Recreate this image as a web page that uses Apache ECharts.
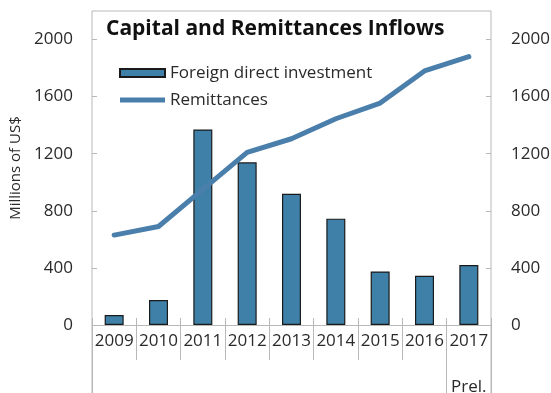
<!DOCTYPE html>
<html>
<head>
<meta charset="utf-8">
<script src="https://cdn.jsdelivr.net/npm/echarts@6/dist/echarts.min.js"></script>
<style>
  html, body { margin: 0; padding: 0; background: #fff; }
  #chart { width: 551px; height: 393px; }
</style>
</head>
<body>
<div id="chart"></div>
<script>
// Years on the category axis
const years = ['2009', '2010', '2011', '2012', '2013', '2014', '2015', '2016', '2017'];
// Extra note printed under a year label
const yearNotes = { '2017': 'Prel.' };
// Foreign direct investment, millions of US$
const fdi = [70, 175, 1370, 1140, 920, 745, 375, 345, 420];
// Remittances, millions of US$
const remittances = [630, 690, 950, 1210, 1305, 1445, 1555, 1780, 1880];
// Value-axis tick labels
const yTicks = [0, 400, 800, 1200, 1600, 2000];

const FONT = '"Open Sans", "DejaVu Sans", sans-serif';
const FRAME = '#b8b8b8';
const TEXT = '#2a2a2a';
const BAR_COLOR = '#3f80a8';
const LINE_COLOR = '#4a7eab';

const chart = echarts.init(document.getElementById('chart'), null, { renderer: 'canvas' });

const valueAxis = (gridIndex, position, margin) => ({
  type: 'value',
  gridIndex,
  position,
  min: 0,
  max: 2200,
  interval: 400,
  axisLine: { show: false },
  splitLine: { show: false },
  axisTick: { show: true, inside: true, length: 5, lineStyle: { color: FRAME }, customValues: yTicks },
  axisLabel: {
    color: TEXT,
    fontFamily: FONT,
    fontSize: 17,
    margin,
    customValues: yTicks,
    formatter: (v) => String(v)
  }
});

// the preliminary year is fenced off by a full-height divider
const prelimIndex = years.indexOf('2017');

// helper axis that only draws vertical dividers between years
const dividerAxis = (gridIndex, interval) => ({
  type: 'category',
  gridIndex,
  data: years,
  axisLine: { show: false },
  axisTick: { show: false },
  axisLabel: { show: false },
  splitLine: { show: true, interval, lineStyle: { color: FRAME, width: 1 } }
});

const PLOT = { left: 92, right: 60, outerBoundsMode: 'none' };

chart.setOption({
  animation: false,
  title: {
    text: 'Capital and Remittances Inflows',
    left: 106,
    top: 19,
    padding: 0,
    textStyle: { fontFamily: FONT, fontWeight: 'bold', fontSize: 21, color: '#111' }
  },
  legend: {
    orient: 'vertical',
    left: 119,
    top: 63,
    padding: 0,
    itemWidth: 45,
    itemHeight: 8,
    itemGap: 7,
    symbolKeepAspect: true,
    textStyle: { fontFamily: FONT, fontSize: 17, color: TEXT, lineHeight: 20 },
    data: [
      { name: 'Foreign direct investment', icon: 'rect' },
      // thick flat stroke for the line series
      { name: 'Remittances', icon: 'path://M0 0H45V5H0Z', itemStyle: { color: LINE_COLOR, borderWidth: 0 } }
    ]
  },
  grid: [
    Object.assign({ top: 11, bottom: 68, show: false }, PLOT),
    // outer frame that runs down past the year labels
    Object.assign({ top: 11, bottom: -1, show: true, borderColor: FRAME, borderWidth: 1, backgroundColor: 'transparent' }, PLOT),
    // short dividers between year labels
    Object.assign({ top: 318, bottom: 33, show: false }, PLOT),
    // long divider before the preliminary year
    Object.assign({ top: 318, bottom: -1, show: false }, PLOT)
  ],
  xAxis: [
    {
      type: 'category',
      gridIndex: 0,
      data: years,
      axisLine: { show: true, lineStyle: { color: FRAME } },
      axisTick: { show: false },
      axisLabel: {
        interval: 0,
        color: TEXT,
        fontFamily: FONT,
        fontSize: 17,
        lineHeight: 23,
        margin: 5,
        formatter: (v) => yearNotes[v] ? v + '\n\n' + yearNotes[v] : v
      }
    },
    dividerAxis(1, () => false),
    dividerAxis(2, 0),
    dividerAxis(3, (index) => index === 0 || index === prelimIndex)
  ],
  yAxis: [
    Object.assign(valueAxis(0, 'left', 19), {
      name: 'Millions of US$',
      nameLocation: 'middle',
      nameGap: 66,
      nameRotate: 90,
      nameTextStyle: { fontFamily: FONT, fontSize: 15, color: TEXT }
    }),
    valueAxis(0, 'right', 20),
    { type: 'value', gridIndex: 1, show: false },
    { type: 'value', gridIndex: 2, show: false },
    { type: 'value', gridIndex: 3, show: false }
  ],
  series: [
    {
      name: 'Foreign direct investment',
      type: 'bar',
      xAxisIndex: 0,
      yAxisIndex: 0,
      data: fdi,
      barWidth: 19,
      itemStyle: { color: BAR_COLOR, borderColor: '#1a1a1a', borderWidth: 1.2 }
    },
    {
      name: 'Remittances',
      type: 'line',
      xAxisIndex: 0,
      yAxisIndex: 1,
      data: remittances,
      symbol: 'none',
      lineStyle: { color: LINE_COLOR, width: 5, cap: 'round', join: 'round' },
      itemStyle: { color: LINE_COLOR }
    }
  ]
});
</script>
</body>
</html>
